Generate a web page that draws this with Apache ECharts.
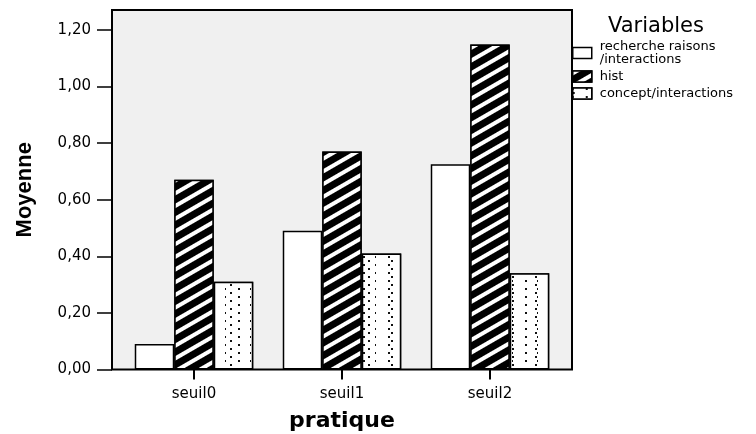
<!DOCTYPE html>
<html>
<head>
<meta charset="utf-8">
<script src="https://cdn.jsdelivr.net/npm/echarts@6/dist/echarts.min.js"></script>
<style>
  html, body { margin: 0; padding: 0; background: #fff; }
  #chart { width: 756px; height: 434px; }
</style>
</head>
<body>
<div id="chart"></div>
<script>
// categories (axe x)
var categories = ['seuil0', 'seuil1', 'seuil2'];
// noms des variables
var seriesNames = ['recherche raisons\n/interactions', 'hist', 'concept/interactions'];
// moyennes
var rechercheValues = [0.09, 0.49, 0.725];
var histValues = [0.67, 0.77, 1.148];
var conceptValues = [0.31, 0.41, 0.34];
// graduations axe y
var yTicks = [0, 0.2, 0.4, 0.6, 0.8, 1.0, 1.2];

var font = 'DejaVu Sans';

// hachures blanches sur fond noir
var histDecal = {
  symbol: 'rect',
  symbolSize: 1,
  color: '#fff',
  backgroundColor: '#000',
  dashArrayX: [1, 0],
  dashArrayY: [3.5, 7],
  rotation: -Math.PI / 6
};
// points en quinconce
var dotDecal = {
  symbol: 'rect',
  symbolSize: 1,
  color: '#111',
  backgroundColor: '#fff',
  dashArrayX: [[2, 21], [0.01, 11.5, 2, 9.49]],
  dashArrayY: [2, 1.35]
};

function barSeries(name, data, color, decal) {
  return {
    name: name,
    type: 'bar',
    xAxisIndex: 0,
    yAxisIndex: 0,
    barWidth: 39.5,
    barGap: '0%',
    data: data,
    itemStyle: {
      color: color,
      borderColor: '#000',
      borderWidth: 1.5,
      decal: decal
    }
  };
}

var option = {
  animation: false,
  title: {
    text: 'Variables',
    left: 603,
    top: 11,
    textStyle: { fontFamily: font, fontSize: 21, fontWeight: 'normal', color: '#000' }
  },
  legend: {
    orient: 'vertical',
    left: 572,
    top: 40,
    padding: 0,
    icon: 'rect',
    itemWidth: 19,
    itemHeight: 11,
    itemGap: 4,
    itemStyle: { borderColor: '#000', borderWidth: 1.5 },
    textStyle: { fontFamily: font, fontSize: 13, lineHeight: 13, color: '#000', padding: [0, 0, 0, 3] },
    data: seriesNames
  },
  grid: [
    // barres
    { left: 120, right: 192, top: 10, bottom: 64.5, show: false, outerBoundsMode: 'none', containLabel: false },
    // cadre
    {
      left: 112, right: 184, top: 10, bottom: 64.5, show: true, outerBoundsMode: 'none', containLabel: false,
      backgroundColor: '#f0f0f0', borderColor: '#000', borderWidth: 2
    }
  ],
  xAxis: [
    {
      type: 'category',
      gridIndex: 0,
      data: categories,
      axisLine: { show: false },
      axisTick: { show: true, alignWithLabel: true, length: 10, lineStyle: { color: '#000', width: 2 } },
      axisLabel: { fontFamily: font, fontSize: 15, color: '#000', margin: 17 },
      name: 'pratique',
      nameLocation: 'middle',
      nameGap: 41,
      nameTextStyle: { fontFamily: font, fontSize: 22, fontWeight: 'bold', color: '#000' }
    },
    { type: 'value', gridIndex: 1, show: false }
  ],
  yAxis: [
    { type: 'value', gridIndex: 0, min: 0, max: 1.27, show: false },
    {
      type: 'value',
      gridIndex: 1,
      min: 0,
      max: 1.27,
      axisLine: { show: false },
      splitLine: { show: false },
      axisTick: {
        show: true, length: 15, customValues: yTicks,
        lineStyle: { color: '#000', width: 1.5 }
      },
      axisLabel: {
        customValues: yTicks,
        margin: 21,
        fontFamily: font,
        fontSize: 15,
        color: '#000',
        formatter: function (v) { return v.toFixed(2).replace('.', ','); }
      },
      name: 'Moyenne',
      nameLocation: 'middle',
      nameGap: 76,
      nameTextStyle: {
        fontFamily: 'Liberation Sans', fontSize: 22,
        fontWeight: 'bold', color: '#000'
      }
    }
  ],
  series: [
    barSeries(seriesNames[0], rechercheValues, '#fff', null),
    barSeries(seriesNames[1], histValues, '#000', histDecal),
    barSeries(seriesNames[2], conceptValues, '#fff', dotDecal)
  ]
};

var myChart = echarts.init(document.getElementById('chart'));
myChart.setOption(option);
</script>
</body>
</html>
